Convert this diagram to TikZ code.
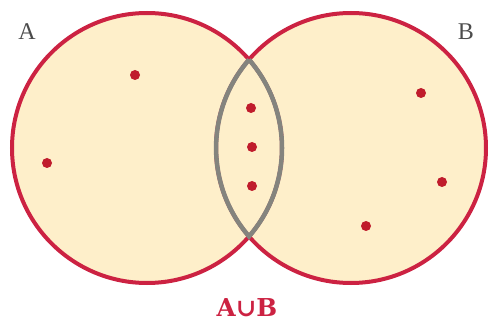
\documentclass[tikz,border=0pt]{standalone}
\usepackage{fontspec}
\setmainfont{Liberation Serif}
\newfontfamily\unionfont{DejaVu Serif}
\usepackage{tikz}
\usetikzlibrary{positioning}

\definecolor{vennred}{RGB}{204,34,66}
\definecolor{venncream}{RGB}{254,239,202}
\definecolor{venngray}{RGB}{132,132,126}
\definecolor{dotred}{RGB}{192,28,44}

\begin{document}
\begin{tikzpicture}[
  x=0.75pt, y=0.75pt,
  setbox/.style = {draw=vennred, line width=3pt},
  lens/.style   = {draw=venngray, line width=3.4pt},
  dot/.style    = {circle, fill=dotred, inner sep=0pt, minimum size=7.5pt},
  setlbl/.style = {font=\fontsize{18}{18}\selectfont, text=black!70},
]
\useasboundingbox (0,0) rectangle (490,322);

%% Sets A and B
\coordinate (cA) at (147,174);
\coordinate (cB) at (351,174);
\fill[venncream] (cA) circle[radius=135] (cB) circle[radius=135];
\draw[setbox] (cA) circle[radius=135];
\draw[setbox] (cB) circle[radius=135];

%% Intersection outline
\draw[lens] ([shift={(40.9:135)}]cA) arc[start angle=40.9, end angle=-40.9, radius=135]
            arc[start angle=220.9, end angle=139.1, radius=135];

%% Elements
\node[dot] (a1) at (135,247) {};
\node[dot] (a2) at (47,159) {};
\node[dot] (m1) at (251,214) {};
\node[dot] (m2) at (252,175) {};
\node[dot] (m3) at (252,136) {};
\node[dot] (b1) at (421,229) {};
\node[dot] (b2) at (442,140) {};
\node[dot] (b3) at (366,96) {};

%% Labels
\node[setlbl] (labA) at (27,290) {A};
\node[setlbl] (labB) at (466,290) {B};
\node[text=vennred, font=\unionfont\bfseries\fontsize{18.5}{18.5}\selectfont] (labU) at (247,14) {A∪B};

\end{tikzpicture}
\end{document}
